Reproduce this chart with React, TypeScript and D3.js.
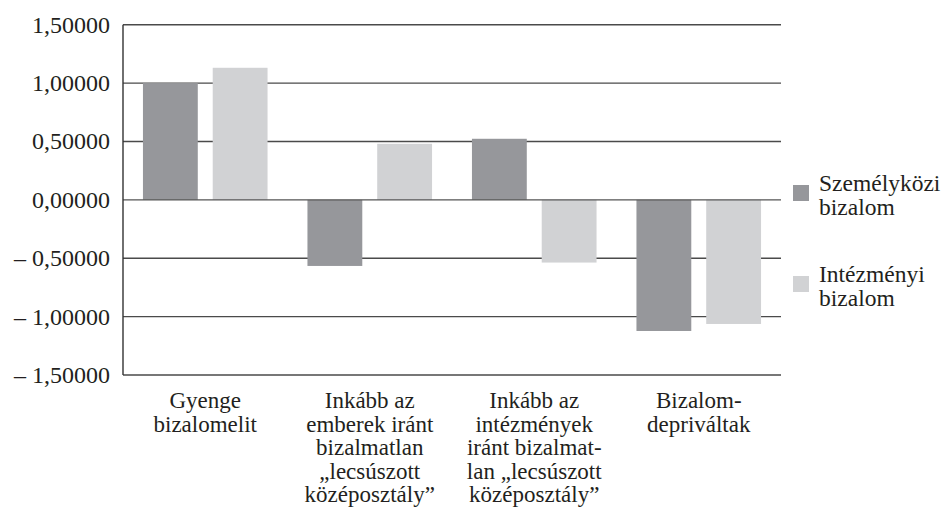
import React from "react";
import * as d3 from "d3";

const categories: string[][] = [
  ["Gyenge", "bizalomelit"],
  ["Inkább az", "emberek iránt", "bizalmatlan", "„lecsúszott", "középosztály”"],
  ["Inkább az", "intézmények", "iránt bizalmat-", "lan „lecsúszott", "középosztály”"],
  ["Bizalom-", "depriváltak"],
];
const seriesNames = ["Személyközi bizalom", "Intézményi bizalom"];
const legendLines: string[][] = [
  ["Személyközi", "bizalom"],
  ["Intézményi", "bizalom"],
];
const szemelykozi = [1.0, -0.566, 0.523, -1.123];
const intezmenyi = [1.131, 0.48, -0.537, -1.063];
const yTicks = [1.5, 1, 0.5, 0, -0.5, -1, -1.5];
const colors = ["#96979b", "#d1d2d4"];

const W = 943;
const H = 513;
const left = 123;
const right = 781;
const top = 24.7;
const bottom = 375;
const textColor = "#231f20";
const font = '"Liberation Serif", "DejaVu Serif", serif';
const textStyle = { fontFamily: font };

function fmt(v: number): string {
  const s = Math.abs(v).toFixed(5).replace(".", ",");
  return v < 0 ? "– " + s : s;
}

export default function App() {
  const keys = categories.map((_, i) => String(i));
  const x0 = d3.scaleBand<string>().domain(keys).range([left, right]).padding(0);
  const x1 = d3
    .scaleBand<string>()
    .domain(seriesNames)
    .range([0, x0.bandwidth()])
    .paddingInner(0.214)
    .paddingOuter(0.286);
  const y = d3.scaleLinear().domain([-1.5, 1.5]).range([bottom, top]);
  const series = [szemelykozi, intezmenyi];

  return (
    <svg
      width={W}
      height={H}
      style={{ position: "absolute", left: 0, top: 0, background: "#fff" }}
    >
      <rect x={0} y={0} width={W} height={H} fill="#fff" />
      {yTicks.map((t) =>
        t === 0 ? null : (
          <line
            key={"g" + t}
            x1={left}
            x2={right}
            y1={y(t)}
            y2={y(t)}
            stroke="#4a4a4a"
            strokeWidth={1.4}
          />
        )
      )}
      {series.map((vals, si) =>
        vals.map((v, ci) => (
          <rect
            key={`b${si}-${ci}`}
            x={(x0(String(ci)) as number) + (x1(seriesNames[si]) as number)}
            y={y(Math.max(0, v))}
            width={x1.bandwidth()}
            height={Math.abs(y(v) - y(0))}
            fill={colors[si]}
          />
        ))
      )}
      <line x1={left} x2={right} y1={y(0)} y2={y(0)} stroke="#555" strokeWidth={1.4} />
      <line x1={left} x2={left} y1={y(1.5)} y2={y(-1.5)} stroke="#333" strokeWidth={1.4} />
      {yTicks.map((t) => (
        <text
          key={"t" + t}
          x={110}
          y={y(t)}
          dy="0.33em"
          textAnchor="end"
          fontSize={24}
          fill={textColor}
          style={textStyle}
        >
          {fmt(t)}
        </text>
      ))}
      {categories.map((lines, ci) => {
        const cx = (x0(String(ci)) as number) + x0.bandwidth() / 2;
        return (
          <text
            key={"c" + ci}
            x={cx}
            y={408}
            textAnchor="middle"
            fontSize={23}
            fill={textColor}
            style={textStyle}
          >
            {lines.map((l, li) => (
              <tspan key={li} x={cx} dy={li === 0 ? 0 : 23.6}>
                {l}
              </tspan>
            ))}
          </text>
        );
      })}
      {legendLines.map((lines, si) => {
        const base = si === 0 ? 191 : 282;
        return (
          <g key={"l" + si}>
            <rect x={793} y={base - 6} width={16} height={16} fill={colors[si]} />
            {lines.map((l, li) => (
              <text
                key={li}
                x={819}
                y={base + li * 23.5}
                fontSize={23.5}
                fill={textColor}
                style={textStyle}
              >
                {l}
              </text>
            ))}
          </g>
        );
      })}
    </svg>
  );
}
